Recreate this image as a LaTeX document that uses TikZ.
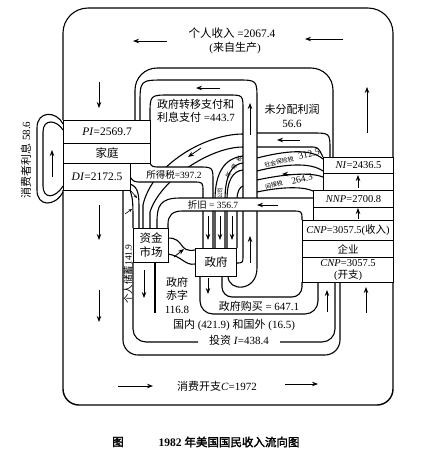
\documentclass[tikz,border=0pt]{standalone}
\usepackage{fontspec}
\setmainfont{Liberation Serif}
\newfontfamily\cjk[AutoFakeBold=2]{Noto Sans CJK SC}
\newcommand\zh[1]{{\cjk #1}}
\usetikzlibrary{arrows.meta}
\begin{document}
\begin{tikzpicture}[x=1pt,y=-1pt,
  wall/.style={line width=1.1pt,line join=round},
  flow/.style={line width=0.8pt,-{Stealth[length=6pt,width=4.5pt]}},
  sflow/.style={line width=0.6pt,-{Stealth[length=3.5pt,width=3pt]}},
  cell/.style={draw,line width=1.1pt,fill=white,inner sep=0pt,anchor=north west,font=\fontsize{10.5}{12}\selectfont,align=center},
  lab/.style={font=\fontsize{11}{13.5}\selectfont,inner sep=0pt},
  slab/.style={font=\fontsize{9.5}{11}\selectfont,inner sep=0pt},
  tlab/.style={font=\fontsize{6}{7}\selectfont,inner sep=0pt},
  mask/.style={fill=white,draw=none}]
\useasboundingbox (0,0) rectangle (421,456);

% personal income loop
\draw[wall,rounded corners=25] (63,120) -- (63,8) -- (393,8) -- (393,157);
\draw[wall,rounded corners=22] (135,120) -- (135,68) -- (333,68) -- (333,157);
% consumption loop
\draw[wall,line width=1.4pt,rounded corners=16] (63,190) -- (63,405) -- (393,405) -- (393,282);
\draw[wall,rounded corners=15] (123,190) -- (123,355) -- (340,355) -- (340,282);

% transfer payments channel
\draw[wall] (228,276) .. controls (228,292) and (257,292) .. (257,268) -- (257,100) .. controls (257,80) .. (237,80) -- (165,80) .. controls (140,80) .. (140,105) -- (140,120);
\draw[wall] (236,263) .. controls (243,263) .. (243,255) -- (243,110) .. controls (243,95) .. (228,95) -- (170,95) .. controls (150,95) .. (150,115) -- (150,120);

% undistributed profits (right part)
\draw[wall] (257,133) -- (312,133) .. controls (330,133) .. (330,150) -- (330,157);
\draw[wall] (257,147) -- (310,147) .. controls (318,147) .. (323,157);
% social security tax band
\draw[wall] (257,158) .. controls (285,151) and (310,148) .. (323,159);
\draw[wall] (257,171) .. controls (285,164) and (310,162) .. (323,171);
% indirect tax band
\draw[wall] (257,180) .. controls (285,174) and (310,172) .. (323,177);
\draw[wall] (257,192) .. controls (285,186) and (305,187) .. (313,191);

% undistributed profits (diagonal, to capital market)
\draw[wall] (243,134) .. controls (205,134) and (152,165) .. (143,205) -- (143,228);
\draw[wall] (243,147) .. controls (210,147) and (160,180) .. (150,212) -- (150,228);
% corporate income tax band
\draw[wall] (243,156) .. controls (225,158) and (215,172) .. (215,200) -- (215,248);
\draw[wall] (243,163) .. controls (232,164) and (225,175) .. (225,200) -- (225,248);
% social security + indirect taxes to government
\draw[wall] (243,170) .. controls (233,171) and (227,180) .. (227,200) -- (227,248);
\draw[wall] (243,186) .. controls (240,187) and (237,191) .. (237,200) -- (237,248);

% personal income tax band
\fill[mask] (150,163) .. controls (152,167) .. (162,167) -- (198,167) .. controls (213,167) .. (213,182) -- (213,196) -- (203,196) -- (203,192) .. controls (203,182) .. (193,182) -- (142,182) .. controls (134,182) .. (130,177) -- (130,163) -- cycle;
\draw[wall] (150,163) .. controls (152,167) .. (162,167) -- (198,167) .. controls (213,167) .. (213,182) -- (213,248);
\draw[wall] (130,177) .. controls (134,182) .. (142,182) -- (193,182) .. controls (203,182) .. (203,192) -- (203,248);

% depreciation band
\fill[mask] (313,198) -- (180,198) .. controls (160,198) and (157,206) .. (157,222) -- (157,228) -- (168,228) -- (168,224) .. controls (168,216) and (172,211) .. (182,211) -- (292,211) .. controls (302,211) .. (302,220) -- (313,220) -- cycle;
\draw[wall] (313,198) -- (180,198) .. controls (160,198) and (157,206) .. (157,222) -- (157,228);
\draw[wall] (302,220) .. controls (302,211) .. (292,211) -- (182,211) .. controls (172,211) and (168,216) .. (168,224) -- (168,228);

% personal saving into capital market
\draw[wall] (130,190) .. controls (133,200) .. (133,228);
\draw[wall] (130,184) .. controls (139,187) and (139,196) .. (139,210) -- (139,228);

% investment
\draw[wall,rounded corners=13] (133,262) -- (133,342) -- (198,342);
\draw[wall,rounded corners=13] (280,342) -- (335,342) -- (335,282);
\draw[wall] (155,262) -- (155,313);
% government purchases
\draw[wall,rounded corners=13] (200,276) -- (200,314) -- (318,314) -- (318,282);
\draw[wall,rounded corners=10] (222,276) -- (222,297) -- (302,297) -- (302,282);
% government deficit
\draw[wall] (168,238) .. controls (185,238) and (178,253) .. (195,250);
\draw[wall] (168,254) .. controls (182,256) and (185,266) .. (195,264);

% consumer interest loop
\draw[wall] (63,124) .. controls (57,111) and (37,110) .. (37,128) -- (37,190) .. controls (37,207) and (55,207) .. (63,192);
\draw[wall] (63,130) .. controls (57,120) and (43,118) .. (43,132) -- (43,186) .. controls (43,199) and (55,199) .. (63,186);

% boxes
\node[cell,minimum width=87pt,minimum height=23pt,font=\fontsize{11.5}{12}\selectfont] (pi) at (63,120) {\textit{PI}=2569.7};
\node[cell,minimum width=87pt,minimum height=20pt,font=\fontsize{11.5}{12}\selectfont] (home) at (63,143) {\zh{家庭}};
\node[cell,minimum width=67pt,minimum height=27pt,font=\fontsize{11.5}{12}\selectfont] (di) at (63,163) {\textit{DI}=2172.5};
\node[cell,minimum width=70pt,minimum height=16pt] (ni) at (323,157) {\textit{NI}=2436.5};
\node[cell,minimum width=70pt,minimum height=17pt] (gapa) at (323,173) {};
\node[cell,minimum width=80pt,minimum height=17pt] (nnp) at (313,190) {\textit{NNP}=2700.8};
\node[cell,minimum width=80pt,minimum height=13pt] (gapb) at (313,207) {};
\node[cell,minimum width=91pt,minimum height=20pt] (gnpi) at (302,220) {\textit{CNP}=3057.5(\zh{收入})};
\node[cell,minimum width=91pt,minimum height=17pt] (firm) at (302,240) {\zh{企业}};
\node[cell,minimum width=91pt,minimum height=25pt,font=\fontsize{10.5}{11.5}\selectfont] (gnpe) at (302,257) {\textit{CNP}=3057.5\\(\zh{开支})};
\node[cell,minimum width=35pt,minimum height=34pt,font=\fontsize{11.5}{14}\selectfont] (fm) at (133,228) {\zh{资金}\\\zh{市场}};
\node[cell,minimum width=41pt,minimum height=28pt,font=\fontsize{11.5}{12}\selectfont] (gov) at (195,248) {\zh{政府}};

% labels
\node[lab,font=\fontsize{11.5}{13}\selectfont] (pinc) at (232,33) {\zh{个人收入} =2067.4};
\node[lab] (pinc2) at (235,48) {(\zh{来自生产})};
\node[lab,align=left,anchor=west] (trl) at (157,111) {\zh{政府转移支付和}\\\zh{利息支付} =443.7};
\node[lab,align=center] (udl) at (292,116) {\zh{未分配利润}\\56.6};
\node[slab] (itax) at (174,175) {\zh{所得税}=397.2};
\node[slab] (depl) at (213,205) {\zh{折旧} = 356.7};
\node[tlab,rotate=14] (ssl) at (279,162) {\zh{社会保险税}};
\node[slab,rotate=14] (ssn) at (309,154) {312.5};
\node[tlab,rotate=14] (itl) at (274,185) {\zh{间接税}};
\node[slab,rotate=14] (itn) at (302,179) {264.3};
\node[tlab,font=\fontsize{5.5}{6}\selectfont,rotate=55] (ctl) at (234,167) {\zh{所\hspace{4pt}得\hspace{4pt}税}};
\node[tlab,font=\fontsize{5.5}{6}\selectfont,rotate=90] (ctg) at (220,193) {\zh{公司}};
\node[lab,rotate=90] (cil) at (26,160) {\zh{消费者利息} 58.6};
\node[slab,rotate=90] (savl) at (128,274) {\zh{个人储蓄}141.9};
\node[lab,align=center] (defl) at (177,295) {\zh{政府}\\\zh{赤字}\\116.8};
\node[lab] (gpl) at (259,306) {\zh{政府购买} = 647.1};
\node[lab] (doml) at (234,325) {\zh{国内} (421.9) \zh{和国外} (16.5)};
\node[lab] (invl) at (239,340) {\zh{投资} \textit{I}=438.4};
\node[lab] (conl) at (217,386) {\zh{消费开支}\textit{C}=1972};
\node[font=\fontsize{11.5}{13}\selectfont\bfseries,inner sep=0pt] (capa) at (118,442) {\zh{图}};
\node[font=\fontsize{11.5}{13}\selectfont\bfseries,inner sep=0pt] (capb) at (229,442) {1982 \zh{年美国国民收入流向图}};

% flow arrows
\draw[flow] (167,41) -- (133,41);
\draw[flow] (343,39) -- (305,39);
\draw[flow] (99,82) -- (99,108);
\draw[flow] (367,133) -- (367,87);
\draw[flow] (220,88) -- (196,88);
\draw[flow] (250,135) -- (250,103);
\draw[flow] (250,263) -- (250,236);
\draw[flow] (300,140) -- (277,140);
\draw[flow] (201,148) -- (188,157);
\draw[flow] (300,174) -- (282,174);
\draw[flow] (278,205) -- (257,205);
\draw[flow] (208,216) -- (208,240);
\draw[flow] (220,216) -- (220,240);
\draw[flow] (232,216) -- (232,240);
\draw[flow] (208,278) -- (208,294);
\draw[flow] (174,257) -- (184,249);
\draw[flow] (144,270) -- (144,298);
\draw[flow] (99,205) -- (99,240);
\draw[flow] (99,290) -- (99,322);
\draw[flow] (327,312) -- (327,290);
\draw[flow] (366,313) -- (366,287);
\draw[flow] (118,386) -- (153,386);
\draw[flow] (285,384) -- (318,384);
\draw[flow] (52,177) -- (52,150);
\draw[flow] (358,188) -- (358,175);
\draw[flow] (358,219) -- (358,208);
\draw[sflow] (131,191) -- (137,198);
\draw[sflow] (125,214) -- (132,209);
\end{tikzpicture}
\end{document}
